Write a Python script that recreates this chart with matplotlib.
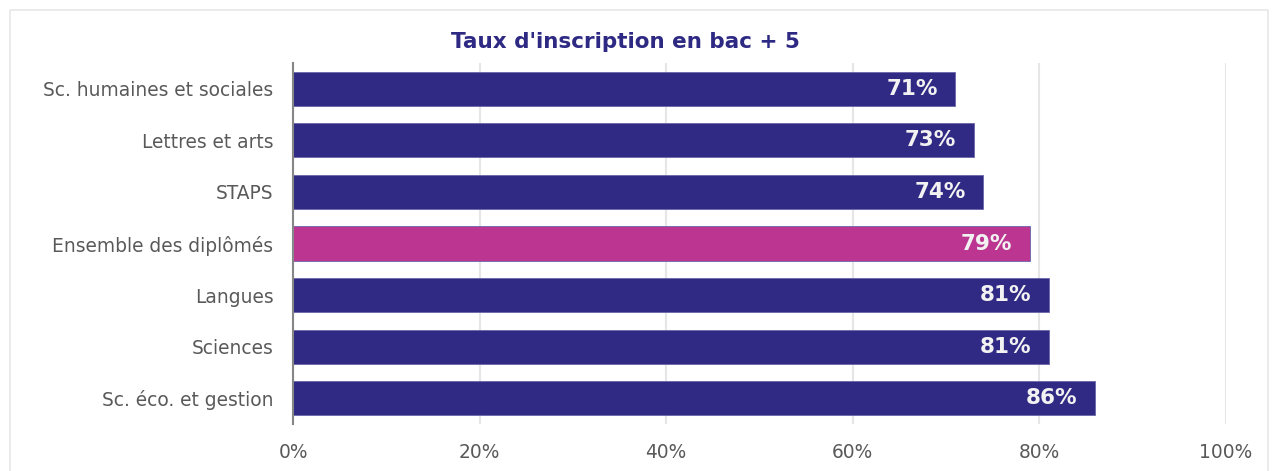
import matplotlib
matplotlib.use("Agg")
import matplotlib.pyplot as plt
from matplotlib.patches import Rectangle
from matplotlib.ticker import FuncFormatter

# Données (de haut en bas)
categories = [
    "Sc. humaines et sociales",
    "Lettres et arts",
    "STAPS",
    "Ensemble des diplômés",
    "Langues",
    "Sciences",
    "Sc. éco. et gestion",
]
values = [71, 73, 74, 79, 81, 81, 86]
highlight = "Ensemble des diplômés"

NAVY = "#312a84"
PINK = "#bc3590"

fig = plt.figure(figsize=(12.79, 4.71), dpi=100)
ax = fig.add_axes([293 / 1279, 1 - 424 / 471, 933 / 1279, 361 / 471])

# cadre léger autour du graphique
fig.patches.append(Rectangle((10 / 1279, -0.1), 1258 / 1279, 1.1 - 10 / 471,
                             transform=fig.transFigure, fill=False,
                             edgecolor="#e8e8e8", linewidth=1.2))

ys = list(range(len(categories)))[::-1]
colors = [PINK if c == highlight else NAVY for c in categories]
bars = ax.barh(ys, values, height=0.66, color=colors,
               edgecolor="#6a66aa", linewidth=0.6, zorder=3)

for b, v in zip(bars, values):
    ax.text(b.get_width() - 1.9, b.get_y() + b.get_height() / 2, f"{v}%",
            ha="right", va="center", color="#f2f2f2", fontsize=15.5,
            weight="bold", zorder=4)

ax.set_xlim(0, 100)
ax.set_ylim(-0.5, len(categories) - 0.5)
ax.set_yticks(ys)
ax.set_yticklabels(categories)
ax.set_xticks([0, 20, 40, 60, 80, 100])
ax.xaxis.set_major_formatter(FuncFormatter(lambda x, _: f"{x:.0f}%"))

ax.tick_params(axis="both", length=0, labelsize=13.4, labelcolor="#595959")
ax.tick_params(axis="y", pad=14.2)
ax.tick_params(axis="x", pad=14)

for s in ["top", "right", "bottom"]:
    ax.spines[s].set_visible(False)
ax.spines["left"].set_color("#868686")
ax.spines["left"].set_linewidth(1.5)
ax.spines["left"].set_zorder(5)

ax.grid(axis="x", color="#e6e6e6", linewidth=1.5, zorder=0)
ax.set_axisbelow(True)

fig.text(625 / 1279, 1 - 42 / 471, "Taux d'inscription en bac + 5",
         ha="center", va="center", fontsize=15.5, weight="bold", color="#2e2a84")

fig.savefig("out.png", dpi=100, facecolor="white")
